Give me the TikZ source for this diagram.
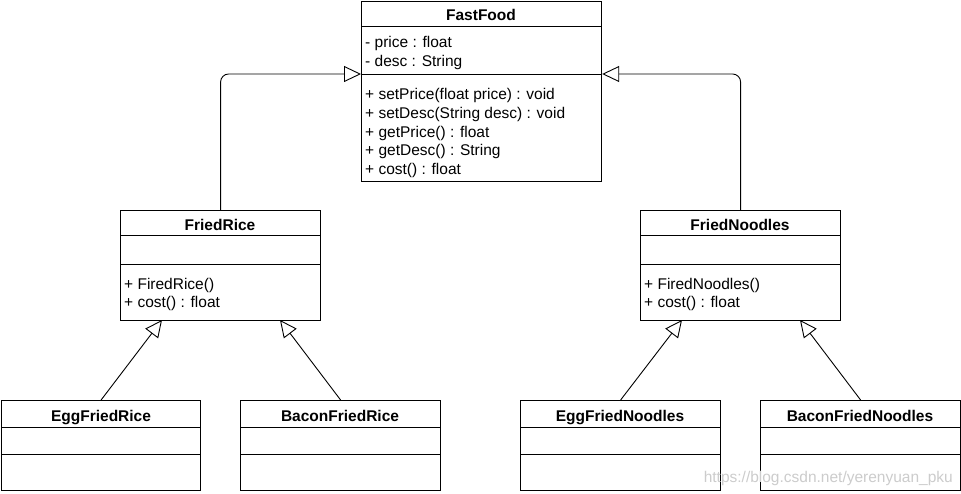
\documentclass[tikz,border=0pt]{standalone}
\usepackage{fontspec}
\setmainfont{Liberation Sans}
\usetikzlibrary{arrows.meta}
\newcommand\umlfont{\fontsize{15.5}{18}\selectfont}
\tikzset{
  classbox/.style={draw, line width=1.2pt, fill=white, inner sep=0pt, anchor=north west},
  classname/.style={font=\umlfont\bfseries, anchor=base, inner sep=0pt},
  member/.style={font=\umlfont, anchor=base west, inner sep=0pt},
  divider/.style={line width=0.9pt},
  inherit/.style={-{Triangle[open,length=17pt,width=16pt,fill=white]}, line width=0.9pt, rounded corners=8pt},
}

\begin{document}
\begin{tikzpicture}[x=1pt, y=-1pt]
  \useasboundingbox (0,0) rectangle (961,494);

  %% FastFood
  \node[classbox, minimum width=240pt, minimum height=180pt] (fastfood) at (361,1) {};
  \node[classname] (fastfoodname) at (481,21) {FastFood};
  \draw[divider] (fastfood.west |- 0,26) -- (fastfood.east |- 0,26);
  \draw[divider] (fastfood.west |- 0,74) -- (fastfood.east |- 0,74);
  \node[member] (ffprice) at (365,48) {- price : float};
  \node[member] (ffdesc) at (365,67) {- desc : String};
  \node[member] (ffsetprice) at (365,100) {+ setPrice(float price) : void};
  \node[member] (ffsetdesc) at (365,119) {+ setDesc(String desc) : void};
  \node[member] (ffgetprice) at (365,138) {+ getPrice() : float};
  \node[member] (ffgetdesc) at (365,156) {+ getDesc() : String};
  \node[member] (ffcost) at (365,175) {+ cost() : float};
  \coordinate (ffleft) at (fastfood.west |- 0,74);
  \coordinate (ffright) at (fastfood.east |- 0,74);

  %% FriedRice
  \node[classbox, minimum width=200pt, minimum height=110pt] (friedrice) at (120,210) {};
  \node[classname] (friedricename) at (220,231) {FriedRice};
  \draw[divider] (friedrice.west |- 0,235) -- (friedrice.east |- 0,235);
  \draw[divider] (friedrice.west |- 0,264) -- (friedrice.east |- 0,264);
  \node[member] (frctor) at (124,290) {+ FiredRice()};
  \node[member] (frcost) at (124,308) {+ cost() : float};
  \coordinate (frtipa) at (162,320);
  \coordinate (frtipb) at (280,320);

  %% FriedNoodles
  \node[classbox, minimum width=200pt, minimum height=110pt] (friednoodles) at (640,210) {};
  \node[classname] (friednoodlesname) at (740,231) {FriedNoodles};
  \draw[divider] (friednoodles.west |- 0,235) -- (friednoodles.east |- 0,235);
  \draw[divider] (friednoodles.west |- 0,264) -- (friednoodles.east |- 0,264);
  \node[member] (fnctor) at (644,290) {+ FiredNoodles()};
  \node[member] (fncost) at (644,308) {+ cost() : float};
  \coordinate (fntipa) at (682,320);
  \coordinate (fntipb) at (800,320);

  %% leaf classes
  \node[classbox, minimum width=199pt, minimum height=90pt] (eggrice) at (1,400) {};
  \node[classname] (eggricename) at (101,421) {EggFriedRice};
  \node[classbox, minimum width=200pt, minimum height=90pt] (baconrice) at (240,400) {};
  \node[classname] (baconricename) at (340,421) {BaconFriedRice};
  \node[classbox, minimum width=200pt, minimum height=90pt] (eggnoodles) at (520,400) {};
  \node[classname] (eggnoodlesname) at (620,421) {EggFriedNoodles};
  \node[classbox, minimum width=200pt, minimum height=90pt] (baconnoodles) at (760,400) {};
  \node[classname] (baconnoodlesname) at (860,421) {BaconFriedNoodles};
  \foreach \leaf in {eggrice,baconrice,eggnoodles,baconnoodles} {
    \draw[divider] (\leaf.west |- 0,427) -- (\leaf.east |- 0,427);
    \draw[divider] (\leaf.west |- 0,454) -- (\leaf.east |- 0,454);
  }

  %% generalizations
  \draw[inherit] (friedrice.north) |- (ffleft);
  \draw[inherit] (friednoodles.north) |- (ffright);
  \draw[inherit] (eggrice.north) -- (frtipa);
  \draw[inherit] (baconrice.north) -- (frtipb);
  \draw[inherit] (eggnoodles.north) -- (fntipa);
  \draw[inherit] (baconnoodles.north) -- (fntipb);

  % watermark
  \node[font=\umlfont, anchor=base east, inner sep=0pt, text=gray!40] (mark) at (953,482) {https://blog.csdn.net/yerenyuan\_pku};
\end{tikzpicture}
\end{document}
